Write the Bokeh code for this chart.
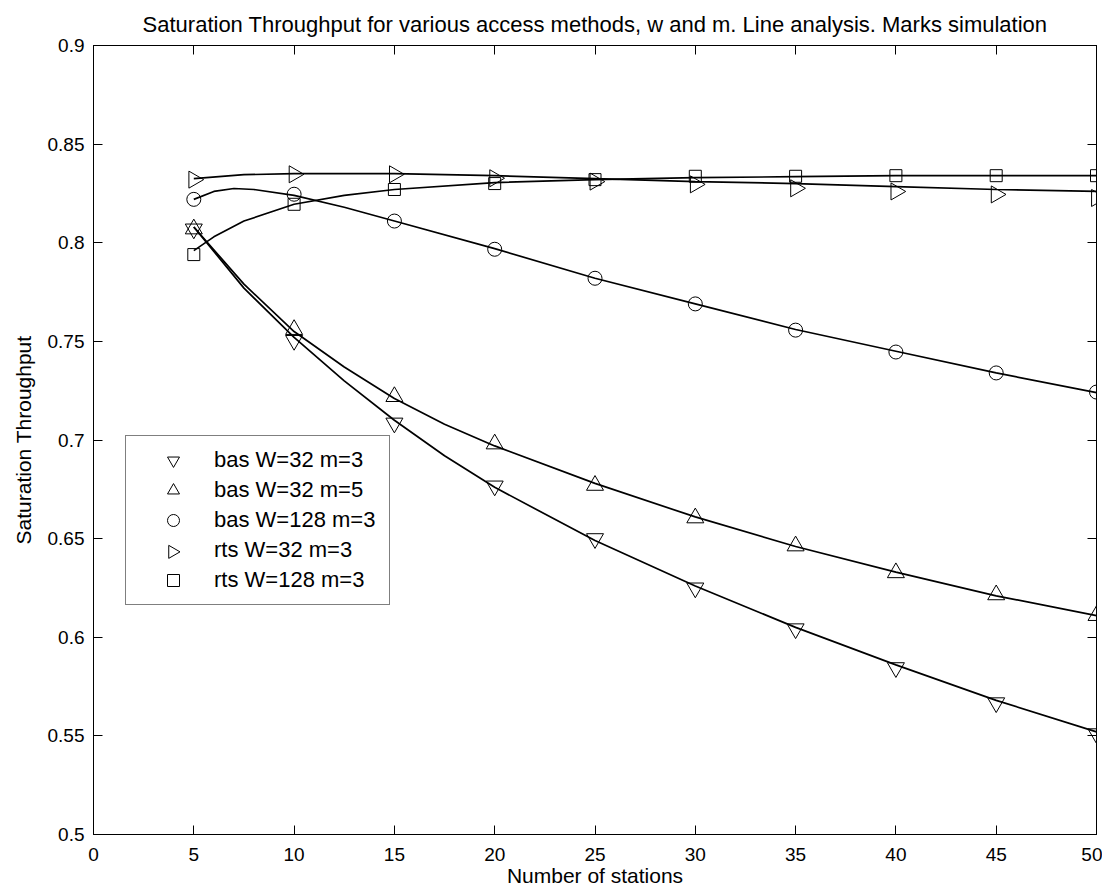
import math
from bokeh.plotting import figure
from bokeh.models import (FixedTicker, LinearAxis, Legend, LegendItem, Range1d,
                          NumeralTickFormatter)
from bokeh.embed import file_html
from bokeh.resources import INLINE

# ---------------- data ----------------
stations = [5, 10, 15, 20, 25, 30, 35, 40, 45, 50]

# simulation (marks)
sim_bas32_m3 = [0.807, 0.7505, 0.7086, 0.6767, 0.650, 0.625, 0.6043, 0.5846, 0.5668, 0.5511]
sim_bas32_m5 = [0.807, 0.756, 0.722, 0.698, 0.677, 0.6605, 0.6463, 0.6327, 0.6215, 0.611]
sim_bas128_m3 = [0.822, 0.8246, 0.811, 0.7967, 0.782, 0.769, 0.7557, 0.7446, 0.734, 0.7243]
sim_rts32_m3 = [0.832, 0.8347, 0.8347, 0.8327, 0.831, 0.8296, 0.8276, 0.826, 0.8245, 0.8227]
sim_rts128_m3 = [0.794, 0.8195, 0.827, 0.830, 0.832, 0.8337, 0.8337, 0.834, 0.834, 0.834]

# analysis (lines), values
ana_x_bas32_m3 = [5, 7.5, 10, 12.5, 15, 17.5, 20, 25, 30, 35, 40, 45, 50]
ana_bas32_m3 = [0.808, 0.777, 0.752, 0.730, 0.710, 0.692, 0.676, 0.649, 0.626, 0.605, 0.586, 0.568, 0.552]
ana_x_bas32_m5 = [5, 7.5, 10, 12.5, 15, 17.5, 20, 25, 30, 35, 40, 45, 50]
ana_bas32_m5 = [0.808, 0.779, 0.755, 0.737, 0.721, 0.708, 0.697, 0.678, 0.661, 0.646, 0.633, 0.621, 0.611]
ana_x_bas128_m3 = [5, 6, 7, 8, 10, 12.5, 15, 20, 25, 30, 35, 40, 45, 50]
ana_bas128_m3 = [0.822, 0.826, 0.8275, 0.827, 0.824, 0.818, 0.811, 0.797, 0.782, 0.769, 0.756, 0.745, 0.734, 0.724]
ana_x_rts32_m3 = [5, 7.5, 10, 15, 20, 25, 30, 35, 40, 45, 50]
ana_rts32_m3 = [0.8325, 0.8345, 0.835, 0.835, 0.834, 0.8325, 0.831, 0.830, 0.8285, 0.827, 0.826]
ana_x_rts128_m3 = [5, 6, 7.5, 10, 12.5, 15, 20, 25, 30, 35, 40, 45, 50]
ana_rts128_m3 = [0.796, 0.803, 0.811, 0.8195, 0.824, 0.827, 0.8305, 0.832, 0.833, 0.8335, 0.834, 0.834, 0.834]

labels = ["bas W=32 m=3", "bas W=32 m=5", "bas W=128 m=3", "rts W=32 m=3", "rts W=128 m=3"]

x_ticks = [0, 5, 10, 15, 20, 25, 30, 35, 40, 45, 50]
y_ticks = [0.5, 0.55, 0.6, 0.65, 0.7, 0.75, 0.8, 0.85, 0.9]

TITLE = "Saturation Throughput for various access methods, w and m. Line analysis. Marks simulation"
FONT = "Liberation Sans"

# ---------------- layout ----------------
W, H = 1102, 892
B_LEFT, B_RIGHT, B_TOP, B_BOTTOM = 93, 6, 44, 58
X0, X1, Y0, Y1 = 0, 50, 0.5, 0.9
FRAME_W = W - B_LEFT - B_RIGHT
FRAME_H = H - B_TOP - B_BOTTOM

p = figure(width=W, height=H, output_backend="svg", toolbar_location=None,
           x_range=Range1d(X0, X1), y_range=Range1d(Y0, Y1),
           min_border_left=B_LEFT, min_border_right=B_RIGHT,
           min_border_top=B_TOP, min_border_bottom=B_BOTTOM,
           title=TITLE)
p.title.align = "center"
p.title.text_font = FONT
p.title.text_font_style = "normal"
p.title.text_font_size = "22px"
p.title.text_color = "black"
p.title.standoff = 18

p.grid.visible = False
p.outline_line_color = "black"
p.outline_line_width = 1
p.background_fill_color = "white"
p.border_fill_color = "white"

def style_axis(ax, show_labels):
    ax.axis_line_color = "black"
    ax.major_tick_line_color = "black"
    ax.major_tick_in = 9
    ax.major_tick_out = 0
    ax.minor_tick_line_color = None
    ax.major_label_text_font = FONT
    if show_labels:
        ax.major_label_text_font_size = "19px"
        ax.major_label_text_color = "black"
    else:
        ax.major_label_text_font_size = "1px"
        ax.major_label_text_color = None
        ax.major_label_standoff = 0
    ax.axis_label_text_font = FONT
    ax.axis_label_text_font_size = "21px"
    ax.axis_label_text_font_style = "normal"
    ax.axis_label_text_color = "black"

xa = p.xaxis[0]
xa.ticker = FixedTicker(ticks=x_ticks)
xa.axis_label = "Number of stations"
style_axis(xa, True)
xa.major_label_standoff = 13
xa.axis_label_standoff = 0

ya = p.yaxis[0]
ya.ticker = FixedTicker(ticks=y_ticks)
ya.formatter = NumeralTickFormatter(format="0.[00]")
ya.axis_label = "Saturation Throughput"
style_axis(ya, True)
ya.major_label_standoff = 9
ya.axis_label_standoff = 10

top = LinearAxis(ticker=FixedTicker(ticks=x_ticks))
style_axis(top, False)
p.add_layout(top, "above")
right = LinearAxis(ticker=FixedTicker(ticks=y_ticks))
style_axis(right, False)
p.add_layout(right, "right")

# ---------------- lines ----------------
ana_sets = [
    (ana_x_bas32_m3, ana_bas32_m3),
    (ana_x_bas32_m5, ana_bas32_m5),
    (ana_x_bas128_m3, ana_bas128_m3),
    (ana_x_rts32_m3, ana_rts32_m3),
    (ana_x_rts128_m3, ana_rts128_m3),
]
for xs, ys in ana_sets:
    p.line(xs, ys, line_color="black", line_width=1.7)

# ---------------- marks ----------------
sims = [sim_bas32_m3, sim_bas32_m5, sim_bas128_m3, sim_rts32_m3, sim_rts128_m3]
markers = [("inverted_triangle", 0.0, 17), ("triangle", 0.0, 17), ("circle", 0.0, 14),
           ("triangle", -math.pi / 2, 17), ("square", 0.0, 12)]
items = []
for i, (ys, (mk, ang, sz), lab) in enumerate(zip(sims, markers, labels)):
    r = p.scatter(stations, ys, marker=mk, angle=ang, size=sz, fill_color=None,
                  line_color="black", line_width=1)
    if ang != 0.0:
        # the legend draws markers unrotated: use an invisible stand-in for the entry
        r = p.scatter(x=[], y=[], marker="triangle", fill_color=None, line_color=None)
    items.append(LegendItem(label=lab, renderers=[r]))

LEG_X, LEG_Y = 32, 229
LEG_PAD, LEG_GW, LEG_GH, LEG_SP = 9, 76, 30, 0
legend = Legend(items=items, location=(LEG_X, LEG_Y), orientation="vertical")
legend.border_line_color = "black"
legend.border_line_width = 1
legend.background_fill_color = None   # no curve crosses the legend box
legend.label_text_font = FONT
legend.label_text_font_size = "22px"
legend.label_text_color = "black"
legend.glyph_width = LEG_GW
legend.glyph_height = LEG_GH
legend.spacing = LEG_SP
legend.padding = LEG_PAD
legend.label_standoff = 3
legend.label_width = 166
legend.margin = 0
p.add_layout(legend, "center")

# right-pointing legend symbol for the "rts W=32 m=3" entry (row 3)
n_rows = len(items)
row = 3
leg_h = 2 * LEG_PAD + n_rows * LEG_GH + (n_rows - 1) * LEG_SP
sym_sx = LEG_X + LEG_PAD + LEG_GW / 2
sym_sy = LEG_Y + leg_h - LEG_PAD - row * (LEG_GH + LEG_SP) - LEG_GH / 2
sym_x = X0 + sym_sx * (X1 - X0) / FRAME_W
sym_y = Y0 + sym_sy * (Y1 - Y0) / FRAME_H
p.scatter([sym_x], [sym_y], marker="triangle", angle=-math.pi / 2, size=13,
          fill_color=None, line_color="black", line_width=1)

open("out.html", "w").write(file_html(p, INLINE))
